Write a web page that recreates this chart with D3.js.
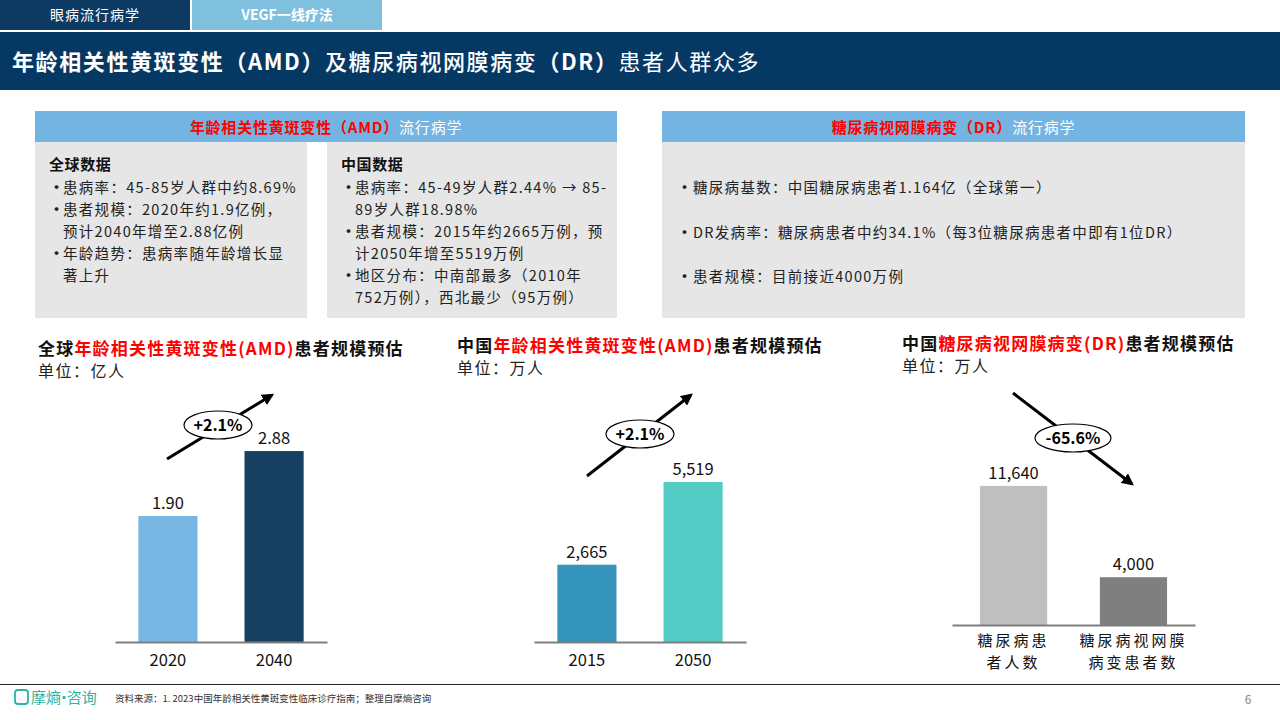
<!DOCTYPE html>
<html><head><meta charset="utf-8">
<script src="https://cdn.jsdelivr.net/npm/d3@7"></script>
<style>
body{margin:0;background:#fff;}
svg{display:block;font-family:"Noto Sans CJK SC","Noto Sans",sans-serif;}
</style></head>
<body><svg id="c" width="1280" height="720"></svg>
<script>
// ---- data ----
const amdGlobalCats = ["2020","2040"];
const amdGlobalVals = [1.90, 2.88];
const amdChinaCats = ["2015","2050"];
const amdChinaVals = [2665, 5519];
const drCats = [["糖尿病患","者人数"],["糖尿病视网膜","病变患者数"]];
const drVals = [11640, 4000];
const growthLabels = ["+2.1%","+2.1%","-65.6%"];
const amdGlobalBullets = [["患病率：45-85岁人群中约8.69%"],["患者规模：2020年约1.9亿例，","预计2040年增至2.88亿例"],["年龄趋势：患病率随年龄增长显","著上升"]];
const amdChinaBullets = [["患病率：45-49岁人群2.44% → 85-","89岁人群18.98%"],["患者规模：2015年约2665万例，预","计2050年增至5519万例"],["地区分布：中南部最多（2010年","752万例），西北最少（95万例）"]];
const drBullets = ["糖尿病基数：中国糖尿病患者1.164亿（全球第一）","DR发病率：糖尿病患者中约34.1%（每3位糖尿病患者中即有1位DR）","患者规模：目前接近4000万例"];

const svg = d3.select("#c");

// ---- header ----
svg.append("rect").attr("x",0).attr("y",0).attr("width",190).attr("height",30).attr("fill","#0d3a63");
svg.append("rect").attr("x",192).attr("y",0).attr("width",190).attr("height",30).attr("fill","#7fc0de");
svg.append("text").attr("x",95).attr("y",20).attr("text-anchor","middle").attr("fill","#fff").attr("font-size",14).attr("letter-spacing",1).text("眼病流行病学");
svg.append("text").attr("x",287).attr("y",20).attr("text-anchor","middle").attr("fill","#fff").attr("font-size",14).attr("font-weight","bold").text("VEGF一线疗法");
svg.append("rect").attr("x",0).attr("y",32).attr("width",1280).attr("height",58).attr("fill","#063864");
const tt = svg.append("text").attr("x",12).attr("y",70).attr("fill","#fff").attr("font-size",22).attr("letter-spacing",1.6);
tt.append("tspan").attr("font-weight","bold").text("年龄相关性黄斑变性（AMD）");
tt.append("tspan").attr("font-weight",500).text("及糖尿病视网膜病变");
tt.append("tspan").attr("font-weight","bold").text("（DR）");
tt.append("tspan").attr("font-weight","normal").text("患者人群众多");

// ---- info boxes ----
function header(x,w,red,white){
  svg.append("rect").attr("x",x).attr("y",111).attr("width",w).attr("height",31).attr("fill","#74b4e2");
  const t = svg.append("text").attr("x",x+w/2).attr("y",133).attr("text-anchor","middle").attr("font-size",15).attr("letter-spacing",0.8).attr("font-weight","bold");
  t.append("tspan").attr("fill","#ff0000").text(red);
  t.append("tspan").attr("fill","#fff").attr("font-weight","normal").text(white);
}
header(35,582,"年龄相关性黄斑变性（AMD）","流行病学");
header(662,583,"糖尿病视网膜病变（DR）","流行病学");
svg.append("rect").attr("x",35).attr("y",142).attr("width",272).attr("height",176).attr("fill","#e6e6e6");
svg.append("rect").attr("x",327).attr("y",142).attr("width",290).attr("height",176).attr("fill","#e6e6e6");
svg.append("rect").attr("x",662).attr("y",142).attr("width",583).attr("height",176).attr("fill","#e6e6e6");

const bodySize = 14.5, bodyLs = 1.3;
function bulletBlock(x,title,items){
  svg.append("text").attr("x",x).attr("y",170).attr("font-size",15).attr("letter-spacing",0.6).attr("font-weight","bold").attr("fill","#111").text(title);
  let y = 193;
  items.forEach(lines=>{
    svg.append("text").attr("x",x).attr("y",y).attr("font-size",15).attr("font-weight","bold").attr("fill","#222").text("•");
    lines.forEach(l=>{
      svg.append("text").attr("x",x+14).attr("y",y).attr("font-size",bodySize).attr("letter-spacing",bodyLs).attr("fill","#222").text(l);
      y += 22;
    });
  });
}
bulletBlock(49,"全球数据",amdGlobalBullets);
bulletBlock(341,"中国数据",amdChinaBullets);
drBullets.forEach((b,i)=>{
  const y = [193,238,282][i];
  svg.append("text").attr("x",677).attr("y",y).attr("font-size",15).attr("font-weight","bold").attr("fill","#222").text("•");
  svg.append("text").attr("x",693).attr("y",y).attr("font-size",bodySize).attr("letter-spacing",bodyLs).attr("fill","#222").text(b);
});

// ---- charts ----
function chartTitle(x,y,pre,red,post,unit){
  const t = svg.append("text").attr("x",x).attr("y",y).attr("font-size",17).attr("font-weight","bold").attr("letter-spacing",1.2).attr("fill","#111");
  t.append("tspan").text(pre);
  t.append("tspan").attr("fill","#ff0000").text(red);
  t.append("tspan").text(post);
  svg.append("text").attr("x",x).attr("y",y+22).attr("font-size",16).attr("letter-spacing",1.5).attr("fill","#222").text(unit);
}
chartTitle(38,355,"全球","年龄相关性黄斑变性(AMD)","患者规模预估","单位：亿人");
chartTitle(457,352,"中国","年龄相关性黄斑变性(AMD)","患者规模预估","单位：万人");
chartTitle(902,350,"中国","糖尿病视网膜病变(DR)","患者规模预估","单位：万人");

function barChart(o){
  const x = d3.scaleBand().domain(o.cats.map((c,i)=>i)).range([o.x0,o.x1]).paddingInner(o.pi).paddingOuter(o.po);
  const y = d3.scaleLinear().domain([0,o.max]).range([o.base,o.top]);
  const g = svg.append("g");
  g.selectAll("rect.bar").data(o.vals).join("rect").attr("class","bar")
    .attr("x",(d,i)=>x(i)).attr("width",x.bandwidth())
    .attr("y",d=>y(d)).attr("height",d=>o.base-y(d)).attr("fill",(d,i)=>o.colors[i]);
  g.selectAll("text.val").data(o.vals).join("text").attr("class","val")
    .attr("x",(d,i)=>x(i)+x.bandwidth()/2).attr("y",d=>y(d)-7)
    .attr("text-anchor","middle").attr("font-size",16.5).attr("fill","#111").text(o.fmt);
  const axis = d3.axisBottom(x).tickSize(0).tickFormat(()=>"");
  const ag = g.append("g").attr("transform",`translate(0,${o.base})`).call(axis);
  ag.select(".domain").attr("stroke","#7f7f7f").attr("stroke-width",2);
  o.cats.forEach((c,i)=>{
    const lines = Array.isArray(c)?c:[c];
    lines.forEach((l,j)=>{
      g.append("text").attr("x",x(i)+x.bandwidth()/2).attr("y",o.base+o.catDy+j*o.lineH)
        .attr("text-anchor","middle").attr("font-size",o.catSize).attr("letter-spacing",o.catLs).attr("fill","#111").text(l);
    });
  });
}
barChart({cats:amdGlobalCats,vals:amdGlobalVals,x0:115,x1:327,pi:0.443,po:0.22,base:642,top:443.1,max:3,
  colors:["#78b6e3","#163f62"],fmt:d=>d3.format(".2f")(d),catDy:24,lineH:20,catSize:16.5,catLs:0});
barChart({cats:amdChinaCats,vals:amdChinaVals,x0:534,x1:746,pi:0.443,po:0.22,base:642,top:468,max:6000,
  colors:["#3594bc","#55cbc5"],fmt:d=>d3.format(",")(d),catDy:24,lineH:20,catSize:16.5,catLs:0});
barChart({cats:drCats,vals:drVals,x0:952,x1:1195,pi:0.44,po:0.233,base:625,top:481.6,max:12000,
  colors:["#bfbfbf","#7f7f7f"],fmt:d=>d3.format(",")(d),catDy:21,lineH:22,catSize:15,catLs:3});

// ---- growth arrows ----
const defs = svg.append("defs");
defs.append("marker").attr("id","ah").attr("viewBox","0 0 10 10").attr("refX",8).attr("refY",5)
  .attr("markerWidth",4).attr("markerHeight",4).attr("orient","auto")
  .append("path").attr("d","M0,0L10,5L0,10z").attr("fill","#000");
function growth(x1,y1,x2,y2,cx,cy,rx,label){
  svg.append("line").attr("x1",x1).attr("y1",y1).attr("x2",x2).attr("y2",y2).attr("stroke","#000").attr("stroke-width",3).attr("marker-end","url(#ah)");
  svg.append("ellipse").attr("cx",cx).attr("cy",cy).attr("rx",rx).attr("ry",14).attr("fill","#fff").attr("stroke","#000").attr("stroke-width",1.2);
  svg.append("text").attr("x",cx).attr("y",cy+6).attr("text-anchor","middle").attr("font-size",16).attr("font-weight","bold").attr("fill","#000").text(label);
}
growth(167,459,272,395,218,425,34,growthLabels[0]);
growth(587,476,691,395,640,434,34,growthLabels[1]);
growth(1013,393,1132,484,1073,438,38,growthLabels[2]);

// ---- footer ----
svg.append("line").attr("x1",0).attr("x2",1280).attr("y1",684.5).attr("y2",684.5).attr("stroke","#222").attr("stroke-width",1);
svg.append("rect").attr("x",15).attr("y",690).attr("width",13).attr("height",14).attr("rx",3).attr("fill","none").attr("stroke","#2bb3a3").attr("stroke-width",1.8);
const logo = svg.append("text").attr("x",31).attr("y",703).attr("font-size",15).attr("fill","#2bb3a3");
logo.append("tspan").text("摩熵");
logo.append("tspan").attr("font-family","DejaVu Sans").attr("font-weight","bold").text("·");
logo.append("tspan").text("咨询");
svg.append("text").attr("x",115).attr("y",702).attr("font-size",9.5).attr("fill","#333").text("资料来源：1. 2023中国年龄相关性黄斑变性临床诊疗指南；整理自摩熵咨询");
svg.append("text").attr("x",1248).attr("y",704).attr("text-anchor","middle").attr("font-size",12).attr("fill","#888").text("6");
</script></body></html>
